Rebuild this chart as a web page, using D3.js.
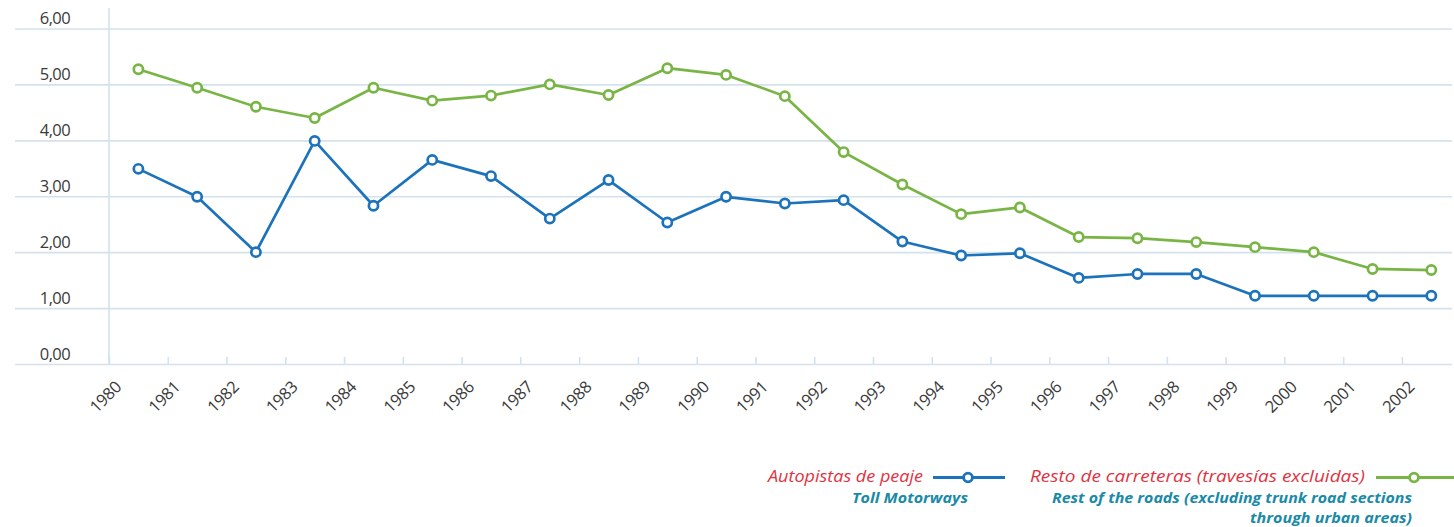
<!DOCTYPE html>
<html>
<head>
<meta charset="utf-8">
<script src="https://cdn.jsdelivr.net/npm/d3@7"></script>
<style>
  html, body { margin: 0; padding: 0; background: #ffffff; }
  svg { display: block; }
</style>
</head>
<body>
<svg id="chart" width="1454" height="527"></svg>
<script>
// ---- data ----
const years = [1980,1981,1982,1983,1984,1985,1986,1987,1988,1989,1990,1991,1992,1993,1994,1995,1996,1997,1998,1999,2000,2001,2002];
const tollMotorways = [3.49,2.99,2.00,3.99,2.83,3.65,3.36,2.60,3.29,2.53,2.99,2.87,2.93,2.19,1.94,1.98,1.54,1.61,1.61,1.22,1.22,1.22,1.22];
const restOfRoads   = [5.27,4.94,4.60,4.40,4.94,4.71,4.80,5.00,4.81,5.29,5.17,4.79,3.79,3.21,2.68,2.80,2.27,2.25,2.18,2.09,2.00,1.70,1.68];
const yTicks = [0,1,2,3,4,5,6];
const legendMain = ["Autopistas de peaje", "Resto de carreteras (travesías excluidas)"];
const legendSub = [["Toll Motorways"], ["Rest of the roads (excluding trunk road sections", "through urban areas)"]];

// ---- styles ----
const BLUE = "#1c73bb", GREEN = "#79b545", GRID = "#d3e2ec";
const RED = "#e2323f", TEAL = "#1a8aa8", TXT = "#3a3a3a";
const FONT = "'Open Sans', Arial, sans-serif";

const svg = d3.select("#chart");
const x = d3.scaleLinear().domain([1980, 2003]).range([109, 1460.7]);
const y = d3.scaleLinear().domain([0, 6]).range([364, 28.5]);
const locale = d3.formatLocale({decimal: ",", thousands: ".", grouping: [3], currency: ["", "€"]});
const fmt = locale.format(".2f");

// gridlines + y labels
const gx0 = 15, gx1 = 1452;
const yAxis = svg.append("g")
  .attr("transform", `translate(${gx0},0)`)
  .call(d3.axisLeft(y).tickValues(yTicks).tickSize(-(gx1 - gx0)).tickFormat(fmt));
yAxis.select(".domain").remove();
yAxis.selectAll(".tick line").attr("stroke", GRID).attr("stroke-width", 1.6);
yAxis.selectAll(".tick text")
  .attr("x", 55).attr("dy", -5).attr("text-anchor", "end")
  .attr("fill", TXT).style("font-family", FONT).style("font-size", "16.5px")
  .style("letter-spacing", "-0.6px");

// vertical axis line
svg.append("line").attr("x1", x(1980)).attr("x2", x(1980)).attr("y1", 8).attr("y2", y(0))
  .attr("stroke", GRID).attr("stroke-width", 1.6);

// x axis ticks + labels
const xAxis = svg.append("g")
  .attr("transform", `translate(0,${y(0)})`)
  .call(d3.axisBottom(x).tickValues(years).tickFormat(d3.format("d")).tickSize(-7));
xAxis.select(".domain").remove();
xAxis.selectAll(".tick line").attr("stroke", GRID).attr("stroke-width", 1.6);
xAxis.selectAll(".tick text")
  .attr("y", 0).attr("dy", 0)
  .attr("text-anchor", "end")
  .attr("transform", "translate(13,24) rotate(-45)")
  .attr("fill", TXT).style("font-family", FONT).style("font-size", "16.5px")
  .style("letter-spacing", "-0.3px");

// series
function drawSeries(vals, color) {
  const pts = years.map((yr, i) => [x(yr + 0.5), y(vals[i])]);
  svg.append("path").attr("d", d3.line()(pts))
    .attr("fill", "none").attr("stroke", color).attr("stroke-width", 2.7)
    .attr("stroke-linejoin", "round");
  svg.append("g").selectAll("circle").data(pts).join("circle")
    .attr("cx", d => d[0]).attr("cy", d => d[1]).attr("r", 4.6)
    .attr("fill", "#fff").attr("stroke", color).attr("stroke-width", 2.7);
}
drawSeries(restOfRoads, GREEN);
drawSeries(tollMotorways, BLUE);

// legend
const leg = [
  {color: BLUE, textEnd: 923, mainW: 155, lineX: [933, 1005], cx: 968, subs: [{t: legendSub[0][0], end: 968, w: 116}]},
  {color: GREEN, textEnd: 1365, mainW: 335, lineX: [1376, 1454], cx: 1414, subs: [{t: legendSub[1][0], end: 1412, w: 360}, {t: legendSub[1][1], end: 1412, w: 162}]}
];
leg.forEach((l, i) => {
  svg.append("text").attr("x", l.textEnd).attr("y", 482).attr("text-anchor", "end")
    .attr("textLength", l.mainW).attr("lengthAdjust", "spacingAndGlyphs")
    .attr("fill", RED).style("font-family", FONT).style("font-size", "17px").style("font-style", "italic")
    .text(legendMain[i]);
  svg.append("line").attr("x1", l.lineX[0]).attr("x2", l.lineX[1]).attr("y1", 477.5).attr("y2", 477.5)
    .attr("stroke", l.color).attr("stroke-width", 3.2);
  svg.append("circle").attr("cx", l.cx).attr("cy", 477.5).attr("r", 4.4)
    .attr("fill", "#fff").attr("stroke", l.color).attr("stroke-width", 2.8);
  l.subs.forEach((s, j) => {
    svg.append("text").attr("x", s.end).attr("y", 503 + j * 20).attr("text-anchor", "end")
      .attr("textLength", s.w).attr("lengthAdjust", "spacingAndGlyphs")
      .attr("fill", TEAL).style("font-family", FONT).style("font-size", "15px")
      .style("font-style", "italic").style("font-weight", "bold")
      .text(s.t);
  });
});
</script>
</body>
</html>
